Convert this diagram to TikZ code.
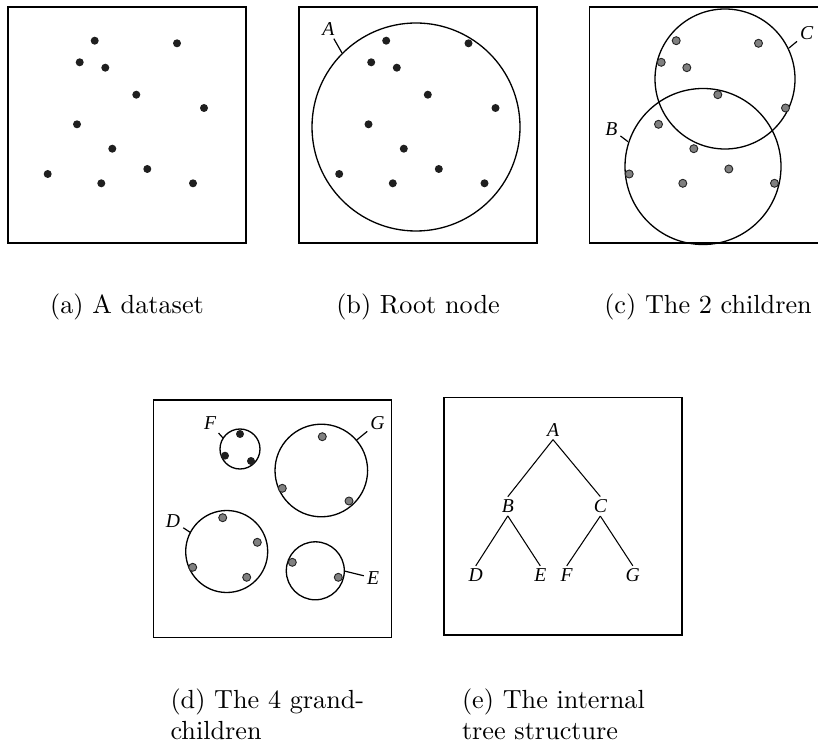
\documentclass[tikz,border=0pt]{standalone}
\usepackage{fontspec}
\newfontfamily\lblfont{Liberation Serif}
\usetikzlibrary{positioning}

% pontos do conjunto de dados (px, y para baixo)
\newcommand{\pontos}{94.7/40.7, 177/43.3, 79.7/62.3, 105.3/67.7, 136.3/94.7, 204/108,
  77/124.3, 112.3/148.7, 47.7/174, 101.3/183.3, 147.3/169, 193/183.3}

\begin{document}
\begin{tikzpicture}[
        x=0.3817pt, y=-0.3817pt,
        panel/.style={draw, line width=0.6pt},
        ring/.style={draw, line width=0.5pt},
        bdot/.style={fill=black!88},
        gdot/.style={fill=black!50, draw=black!85, line width=0.35pt},
        tag/.style={font=\lblfont\itshape\fontsize{7.5}{9}\selectfont, inner sep=1pt},
        lead/.style={line width=0.45pt},
        subcap/.style={inner sep=0pt},
        branch/.style={line width=0.4pt}
    ]

        \useasboundingbox (0,0) rectangle (818,743);
        \clip (0,0) rectangle (818,743);

        % (a) Conjunto de dados
        \draw[panel] (8,7) rectangle (246,243);
        \foreach \px/\py in \pontos \fill[bdot] (\px,\py) circle (4);

        % (b) Raiz
        \draw[panel] (299,7) rectangle (537,243);
        \draw[ring] (416,127) circle (104);
        \foreach \px/\py in \pontos \fill[bdot, shift={(291.5,0)}] (\px,\py) circle (4);
        \node[tag] (lA) at (328.3,29) {A};
        \coordinate (pA) at (342,53);
        \draw[lead] (lA) -- (pA);

        % (c) Os 2 filhos
        \draw[panel] (589.3,7) rectangle (827.3,243);
        \draw[ring] (725,79) circle (70);
        \draw[ring] (703,166.5) circle (78);
        \foreach \px/\py in \pontos \filldraw[gdot, shift={(581.5,0)}] (\px,\py) circle (4);
        \node[tag] (lC) at (806.7,33.3) {C};
        \coordinate (pC) at (789,48);
        \draw[lead] (lC) -- (pC);
        \node[tag] (lB) at (611.3,129) {B};
        \coordinate (pB) at (628,141.7);
        \draw[lead] (lB) -- (pB);

        % (d) Os 4 netos
        \draw[panel] (153.3,400) rectangle (391.7,637.5);
        \draw[ring] (240,449) circle (20);
        \draw[ring] (321.3,470.5) circle (46.3);
        \draw[ring] (226.7,551.5) circle (41);
        \draw[ring] (315.3,570.8) circle (29);
        \foreach \px/\py in {240/434, 225/455.7, 251/461} \fill[bdot] (\px,\py) circle (4);
        \foreach \px/\py in {322.3/436.7, 282.3/488.3, 349/501,
            222.7/517.7, 257.3/542.3, 192.7/567.3, 246.7/577.3,
            292.3/562.3, 338.3/577.3} \filldraw[gdot] (\px,\py) circle (4);
        \node[tag] (lF) at (210,423.5) {F};
        \coordinate (pF) at (223,438);
        \draw[lead] (lF) -- (pF);
        \node[tag] (lG) at (377.5,423) {G};
        \coordinate (pG) at (356.7,440);
        \draw[lead] (lG) -- (pG);
        \node[tag] (lD) at (173,521) {D};
        \coordinate (pD) at (190.7,532.7);
        \draw[lead] (lD) -- (pD);
        \node[tag] (lE) at (373,578) {E};
        \coordinate (pE) at (344.3,571);
        \draw[lead] (lE) -- (pE);

        % (e) Arvore
        \draw[panel] (444,397.3) rectangle (681.7,635);
        \node[tag] (tA) at (553,430) {A};
        \node[tag] (tB) at (507.8,506.3) {B};
        \node[tag] (tC) at (600.3,506.3) {C};
        \node[tag] (tD) at (475.7,575.5) {D};
        \node[tag] (tE) at (540.3,575.5) {E};
        \node[tag] (tF) at (566.7,575.5) {F};
        \node[tag] (tG) at (632.8,575.5) {G};
        \draw[branch] (tA.south) -- (tB.north);
        \draw[branch] (tA.south) -- (tC.north);
        \draw[branch] (tB.south) -- (tD.north);
        \draw[branch] (tB.south) -- (tE.north);
        \draw[branch] (tC.south) -- (tF.north);
        \draw[branch] (tC.south) -- (tG.north);

        % Legendas
        \node[subcap, anchor=base] (capa) at (127,314) {(a) A dataset};
        \node[subcap, anchor=base] (capb) at (418,314) {(b) Root node};
        \node[subcap, anchor=base] (capc) at (708,314) {(c) The 2 children};
        \node[subcap, anchor=base west, text width=77.5pt, align=left] (capd) at (170,708)
            {\makebox[77.5pt][s]{(d) The 4 grand-}\\children};
        \node[subcap, anchor=base west, text width=77.5pt, align=left] (cape) at (461.5,708)
            {(e) The internal\\tree structure};

    \end{tikzpicture}
\end{document}
